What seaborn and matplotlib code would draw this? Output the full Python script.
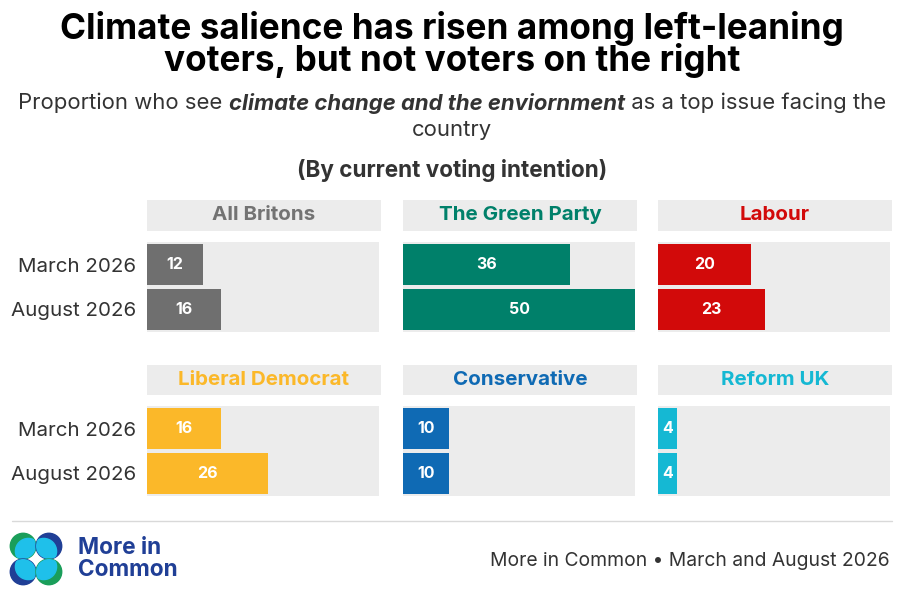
import numpy as np
import pandas as pd
import matplotlib.pyplot as plt
from matplotlib.patches import Circle
import seaborn as sns

sns.set_style('white')
plt.rcParams['font.family'] = ['Inter', 'DejaVu Sans']

parties = ['All Britons', 'The Green Party', 'Labour',
           'Liberal Democrat', 'Conservative', 'Reform UK']
periods = ['March 2026', 'August 2026']
march = [12, 36, 20, 16, 10, 4]
august = [16, 50, 23, 26, 10, 4]
party_colors = ['#6f6f6f', '#00806a', '#d20a0a', '#fbb829', '#0f6ab4', '#15b8d3']
header_colors = ['#737373', '#00806a', '#d20a0a', '#fbb829', '#0f6ab4', '#15b8d3']

W, H = 904, 602
fig = plt.figure(figsize=(W / 100, H / 100), dpi=100)


def box(x0, y0, x1, y1):
    # pixel box (top-left origin) -> figure coords
    return [x0 / W, 1 - y1 / H, (x1 - x0) / W, (y1 - y0) / H]


col_x = [(147, 379), (403, 635), (658, 890)]
row_y = [((200, 231), (242, 332)), ((365, 395), (406, 496))]

for i, party in enumerate(parties):
    r, c = divmod(i, 3)
    x0, x1 = col_x[c]
    (hy0, hy1), (by0, by1) = row_y[r]

    # header strip
    hax = fig.add_axes(box(x0, hy0, x1 + 2, hy1))
    hax.set_facecolor('#ececec')
    hax.set_xticks([]); hax.set_yticks([])
    sns.despine(ax=hax, left=True, bottom=True)
    hax.text(0.5, 0.5, party, ha='center', va='center', fontsize=14.8,
             fontweight='bold', color=header_colors[i], transform=hax.transAxes)

    df = pd.DataFrame({'period': periods, 'value': [march[i], august[i]]})
    ax = fig.add_axes(box(x0, by0, x1, by1))
    ax.set_facecolor('#ececec')
    sns.barplot(data=df, x='value', y='period', orient='h', color=party_colors[i],
                saturation=1, width=0.9, linewidth=0, ax=ax)
    ax.set_xlim(0, 50)
    ax.set_ylim(1.5, -0.5)
    ax.set_xlabel(''); ax.set_ylabel('')
    ax.set_xticks([])
    sns.despine(ax=ax, left=True, bottom=True)
    for j, v in enumerate(df['value']):
        ax.text(v / 2, j, str(v), ha='center', va='center', color='white',
                fontsize=11.5, fontweight='bold')
    if c == 0:
        ax.tick_params(axis='y', length=0, pad=8, labelsize=14.8, labelcolor='#333333')
    else:
        ax.set_yticks([])

# titles
fig.text(0.5, 1 - 28 / H, 'Climate salience has risen among left-leaning',
         ha='center', va='center', fontsize=25.3, fontweight='bold', color='black')
fig.text(0.5, 1 - 60 / H, 'voters, but not voters on the right',
         ha='center', va='center', fontsize=25.3, fontweight='bold', color='black')

# subtitle with mixed styling
renderer = fig.canvas.get_renderer()
parts = [('Proportion who see ', 'normal', 'normal'),
         ('climate change and the enviornment', 'italic', 'bold'),
         (' as a top issue facing the', 'normal', 'normal')]
texts, widths = [], []
for s, style, weight in parts:
    t = fig.text(0, 1 - 103 / H, s, ha='left', va='center', fontsize=15.9,
                 style=style, fontweight=weight, color='#333333')
    texts.append(t)
    widths.append(t.get_window_extent(renderer).width)
xpos = (W - sum(widths)) / 2
for t, w in zip(texts, widths):
    t.set_x(xpos / W)
    xpos += w
fig.text(0.5, 1 - 130 / H, 'country', ha='center', va='center', fontsize=15.9,
         color='#333333')
fig.text(0.5, 1 - 171 / H, '(By current voting intention)', ha='center', va='center',
         fontsize=16.2, fontweight='bold', color='#333333')

# footer rule
fig.add_artist(plt.Line2D([12 / W, 892 / W], [1 - 521 / H, 1 - 521 / H],
                          color='#d9d9d9', lw=1))

# logo
lax = fig.add_axes(box(9, 532, 63, 586))
lax.set_xlim(-2.1, 2.1); lax.set_ylim(-2.1, 2.1)
lax.set_aspect('equal'); lax.axis('off')
outer = {(-1, 1): '#1a9e5a', (1, 1): '#203f96', (-1, -1): '#203f96', (1, -1): '#1a9e5a'}
for (cx, cy), col in outer.items():
    base = Circle((cx, cy), 1.0, color=col)
    lax.add_patch(base)
    inner = Circle((cx - 0.4 * cx, cy - 0.4 * cy), 1.0, color='#1fc0ea')
    lax.add_patch(inner)
    inner.set_clip_path(base)
fig.text(78 / W, 1 - 548 / H, 'More in', ha='left', va='center', fontsize=16.3,
         fontweight='bold', color='#203f96')
fig.text(78 / W, 1 - 570 / H, 'Common', ha='left', va='center', fontsize=16.3,
         fontweight='bold', color='#203f96')
fig.text(890 / W, 1 - 561 / H, 'More in Common \u2022 March and August 2026',
         ha='right', va='center', fontsize=13.9, color='#333333')

fig.savefig('out.png', dpi=100)
